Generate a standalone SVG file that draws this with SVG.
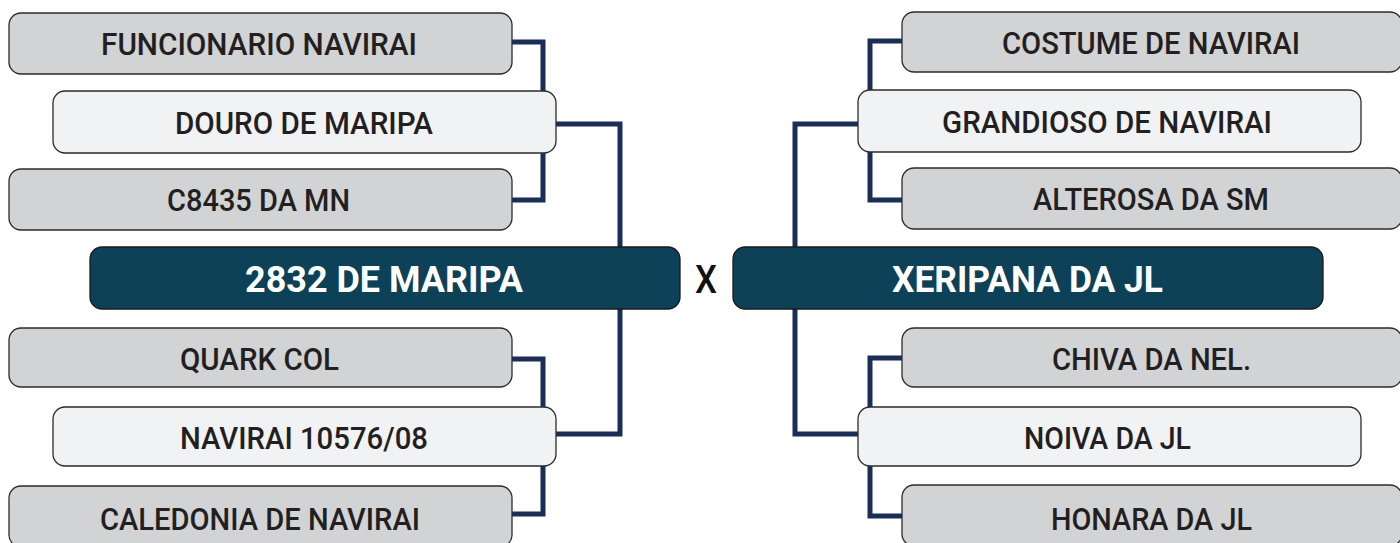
<svg xmlns="http://www.w3.org/2000/svg" width="1400" height="543" viewBox="0 0 1400 543">
<style>
.bg{fill:#ffffff}
.conn{fill:none;stroke:#1b2e58;stroke-width:5;stroke-linejoin:miter}
.gray{fill:#d1d3d4;stroke:#2b2b2b;stroke-width:1.3}
.light{fill:#f1f2f3;stroke:#2b2b2b;stroke-width:1.3}
.dark{fill:#0d4157;stroke:#1a1a1a;stroke-width:1.3}
.t{font-family:Roboto,"Liberation Sans",sans-serif;font-weight:500;font-size:32px;fill:#231f20}
.tm{font-family:Roboto,"Liberation Sans",sans-serif;font-weight:700;font-size:36px;fill:#ffffff}
.x{font-family:Roboto,"Liberation Sans",sans-serif;font-weight:500;font-size:39px;fill:#111111}
</style>
<rect class="bg" x="0" y="0" width="1400" height="543"/>
<g id="connectors">
<path class="conn" d="M512,42 H543 V200 H512"/>
<path class="conn" d="M556,124 H620 V434 H556"/>
<path class="conn" d="M512,359 H543 V514 H512"/>
<path class="conn" d="M902,41 H870 V200 H902"/>
<path class="conn" d="M858,124 H795 V434 H858"/>
<path class="conn" d="M902,358 H870 V516 H902"/>
</g>
<g id="funcionario-navirai"><rect class="gray" x="9" y="13" width="503" height="61" rx="12"/><text class="t" x="101" y="55" textLength="316" lengthAdjust="spacingAndGlyphs">FUNCIONARIO NAVIRAI</text></g>
<g id="douro-de-maripa"><rect class="light" x="53" y="91" width="503" height="62" rx="12"/><text class="t" x="175" y="134" textLength="258" lengthAdjust="spacingAndGlyphs">DOURO DE MARIPA</text></g>
<g id="c8435-da-mn"><rect class="gray" x="9" y="169" width="503" height="61" rx="12"/><text class="t" x="167" y="211" textLength="183" lengthAdjust="spacingAndGlyphs">C8435 DA MN</text></g>
<g id="n2832-de-maripa"><rect class="dark" x="90" y="247" width="590" height="62" rx="12"/><text class="tm" x="245" y="292" textLength="278" lengthAdjust="spacingAndGlyphs">2832 DE MARIPA</text></g>
<g id="quark-col"><rect class="gray" x="9" y="328" width="503" height="59" rx="12"/><text class="t" x="180" y="370" textLength="159" lengthAdjust="spacingAndGlyphs">QUARK COL</text></g>
<g id="navirai-10576-08"><rect class="light" x="53" y="407" width="503" height="59" rx="12"/><text class="t" x="180" y="449" textLength="248" lengthAdjust="spacingAndGlyphs">NAVIRAI 10576/08</text></g>
<g id="caledonia-de-navirai"><rect class="gray" x="9" y="486" width="503" height="61" rx="12"/><text class="t" x="100" y="530" textLength="320" lengthAdjust="spacingAndGlyphs">CALEDONIA DE NAVIRAI</text></g>
<g id="versus"><text class="x" x="695" y="293" textLength="22" lengthAdjust="spacingAndGlyphs">X</text></g>
<g id="xeripana-da-jl"><rect class="dark" x="733" y="247" width="590" height="62" rx="12"/><text class="tm" x="892" y="292" textLength="271" lengthAdjust="spacingAndGlyphs">XERIPANA DA JL</text></g>
<g id="costume-de-navirai"><rect class="gray" x="902" y="12" width="500" height="60" rx="12"/><text class="t" x="1002" y="54" textLength="298" lengthAdjust="spacingAndGlyphs">COSTUME DE NAVIRAI</text></g>
<g id="grandioso-de-navirai"><rect class="light" x="858" y="90" width="503" height="62" rx="12"/><text class="t" x="942" y="133" textLength="330" lengthAdjust="spacingAndGlyphs">GRANDIOSO DE NAVIRAI</text></g>
<g id="alterosa-da-sm"><rect class="gray" x="902" y="168" width="500" height="61" rx="12"/><text class="t" x="1033" y="210" textLength="236" lengthAdjust="spacingAndGlyphs">ALTEROSA DA SM</text></g>
<g id="chiva-da-nel"><rect class="gray" x="902" y="328" width="500" height="59" rx="12"/><text class="t" x="1052" y="370" textLength="199" lengthAdjust="spacingAndGlyphs">CHIVA DA NEL.</text></g>
<g id="noiva-da-jl"><rect class="light" x="858" y="407" width="503" height="59" rx="12"/><text class="t" x="1024" y="449" textLength="167" lengthAdjust="spacingAndGlyphs">NOIVA DA JL</text></g>
<g id="honara-da-jl"><rect class="gray" x="902" y="485" width="500" height="61" rx="12"/><text class="t" x="1051" y="530" textLength="201" lengthAdjust="spacingAndGlyphs">HONARA DA JL</text></g>
</svg>
